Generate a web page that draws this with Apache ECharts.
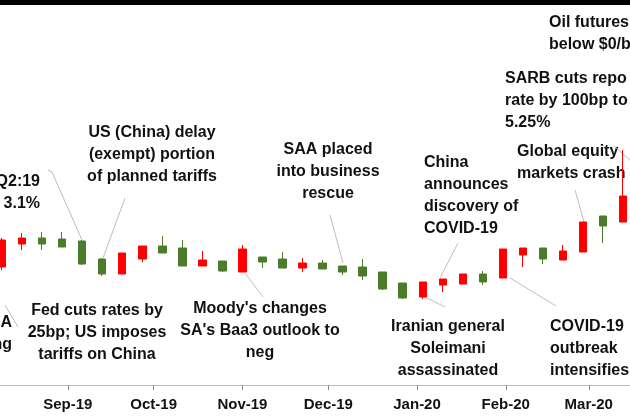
<!DOCTYPE html>
<html><head><meta charset="utf-8">
<script src="https://cdn.jsdelivr.net/npm/echarts@6/dist/echarts.min.js"></script>
<style>html,body{margin:0;padding:0;background:#fff}#c{width:630px;height:420px}</style>
</head><body><div id="c"></div>
<script>
const weekEnd = ["2019-08-09","2019-08-16","2019-08-23","2019-08-30","2019-09-06","2019-09-13","2019-09-20","2019-09-27","2019-10-04","2019-10-11","2019-10-18","2019-10-25","2019-11-01","2019-11-08","2019-11-15","2019-11-22","2019-11-29","2019-12-06","2019-12-13","2019-12-20","2019-12-27","2020-01-03","2020-01-10","2020-01-17","2020-01-24","2020-01-31","2020-02-07","2020-02-14","2020-02-21","2020-02-28","2020-03-06","2020-03-13"];
const opens  = [118,141,147,146,144,126,111,126,139,137,119,124,113,128,126,117,122,119,118,113,102,88,100,101,111,107,130,137,125,133,169,163];
const closes = [145,147,141,138,121,111,132,139,132,119,125,114,136,123,117,122,116,113,109,96,87,103,106,111,103,136,137,126,134,163,159,189];
const lows   = [115,135,135,138,120,109,111,123,132,119,119,113,113,117,117,113,116,110,105,95,86,86,93,101,100,107,118,121,125,133,142,163];
const highs  = [147,152,153,153,145,127,132,139,149,145,134,124,140,128,133,127,125,119,126,113,102,103,106,111,114,136,137,137,140,163,169,235];
const monthStarts = ["2019-09-01","2019-10-01","2019-11-01","2019-12-01","2020-01-01","2020-02-01","2020-03-01"];
const monthLabels = ["Sep-19","Oct-19","Nov-19","Dec-19","Jan-20","Feb-20","Mar-20"];

const base = Date.parse(weekEnd[0]);
const day = d => (Date.parse(d) - base) / 86400000;
const data = weekEnd.map((d,i)=>[day(d), opens[i], closes[i], lows[i], highs[i]]);
const tickDays = monthStarts.map(day);

const FONT = '"Liberation Sans",Arial,sans-serif';
const notes = [
  {x:40,y:171,t:"Q2:19\nGDP 3.1%",a:"right"},
  {x:152,y:122,t:"US (China) delay\n(exempt) portion\nof planned tariffs",a:"center"},
  {x:328,y:139,t:"SAA placed\ninto business\nrescue",a:"center"},
  {x:424,y:152,t:"China\nannounces\ndiscovery of\nCOVID-19",a:"left"},
  {x:517,y:141,t:"Global equity\nmarkets crash",a:"left"},
  {x:505,y:68,t:"SARB cuts repo\nrate by 100bp to\n5.25%",a:"left"},
  {x:549,y:12,t:"Oil futures fall\nbelow $0/bbl",a:"left"},
  {x:97,y:300,t:"Fed cuts rates by\n25bp; US imposes\ntariffs on China",a:"center"},
  {x:12,y:312,t:"SA\nrating",a:"right"},
  {x:260,y:298,t:"Moody's changes\nSA's Baa3 outlook to\nneg",a:"center"},
  {x:448,y:316,t:"Iranian general\nSoleimani\nassassinated",a:"center"},
  {x:550,y:316,t:"COVID-19\noutbreak\nintensifies",a:"left"}
];
const leaders = [
  [[48,170],[52,172],[82,240]],
  [[125,198],[103,258]],
  [[330,215],[343,263]],
  [[458,243],[440,278]],
  [[575,190],[584,222]],
  [[614,146],[632,162]],
  [[18,327],[5,305]],
  [[245,273],[263,297]],
  [[425,297],[445,307]],
  [[510,278],[556,306]]
];
const graphic = [{type:'rect',shape:{x:0,y:0,width:630,height:5},style:{fill:'#000'}}];
notes.forEach(n=>graphic.push({type:'text',x:n.x,y:n.y,style:{text:n.t,textAlign:n.a,fill:'#111',font:'bold 16px '+FONT,lineHeight:22}}));
leaders.forEach(p=>graphic.push({type:'polyline',shape:{points:p},style:{stroke:'#bdbdbd',lineWidth:1,fill:null}}));

const chart = echarts.init(document.getElementById('c'));
chart.setOption({
  animation:false,
  grid:{left:0,right:0,top:0,bottom:35},
  xAxis:{type:'value',min:-0.7,max:219.4,splitLine:{show:false},
    axisLine:{lineStyle:{color:'#bbb'}},
    axisTick:{customValues:tickDays,length:5,lineStyle:{color:'#888'}},
    axisLabel:{customValues:tickDays,formatter:v=>monthLabels[tickDays.indexOf(v)]||'',
      color:'#111',fontFamily:FONT,fontSize:15,fontWeight:'bold',margin:12}},
  yAxis:{type:'value',min:0,max:385,show:false},
  series:[{type:'candlestick',data:data,encode:{x:0,y:[1,2,3,4]},barWidth:8,
    itemStyle:{color:'#ff0000',color0:'#4a7c2a',borderColor:'#ff0000',borderColor0:'#4a7c2a',borderWidth:1}}],
  graphic:graphic
});
</script></body></html>
